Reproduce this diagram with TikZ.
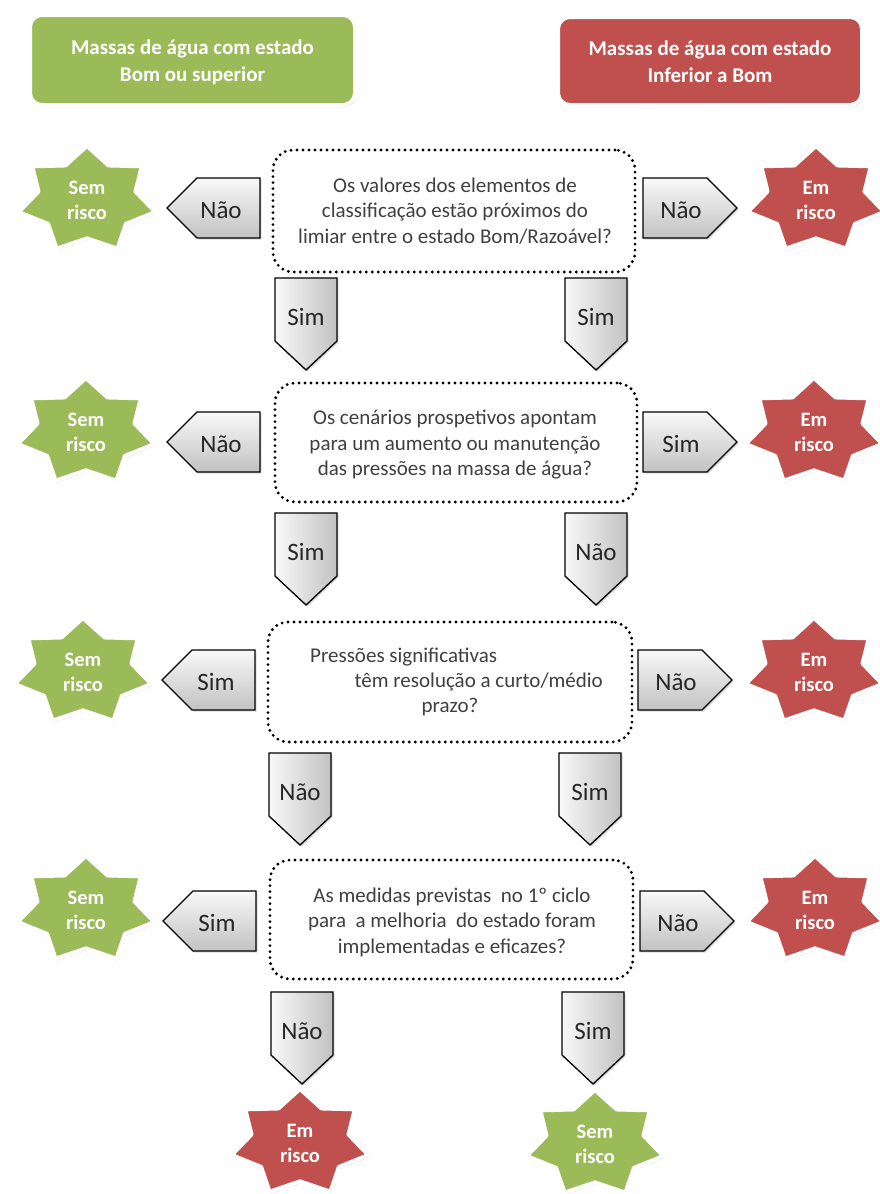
\documentclass[tikz,border=0pt]{standalone}
\usepackage{fontspec}
\setmainfont{Carlito}
\usetikzlibrary{shadows}
\definecolor{okgreen}{HTML}{9BBB59}
\definecolor{badred}{HTML}{C0504D}
\definecolor{qtext}{HTML}{404040}
\tikzset{
 hdr/.style={rounded corners=12pt, draw=white, line width=4pt, minimum height=88pt,
   drop shadow={opacity=0.35, shadow xshift=1.5pt, shadow yshift=-2pt}},
 hdrtxt/.style={text=white, font=\fontsize{21}{27}\selectfont\bfseries, align=center},
 qbox/.style={draw=black, rounded corners=20pt, line width=3.2pt, dash pattern=on 0pt off 6pt, line cap=round},
 qtxt/.style={text=qtext, font=\fontsize{21}{25.5}\selectfont, align=center, inner sep=0pt},
 arr/.style={draw=black, line width=1.3pt, line join=miter,
   drop shadow={opacity=0.3, shadow xshift=1.5pt, shadow yshift=-1.5pt}},
 varr/.style={arr, left color=gray!5, right color=gray!48},
 harr/.style={arr, top color=gray!5, bottom color=gray!48},
 arrtxt/.style={text=black!85, font=\fontsize{25}{25}\selectfont, inner sep=0pt},
 startxt/.style={text=white, font=\fontsize{20.5}{25}\selectfont\bfseries, align=center, inner sep=0pt},
 starshape/.style={draw=white, line width=4pt, line join=round,
   drop shadow={opacity=0.3, shadow xshift=1pt, shadow yshift=-2pt}},
}
% star: name, cx, cy, colour, text
\newcommand\riskstar[5]{%
  \path[starshape, fill=#4] ({#2},{#3-54})
    \foreach \k in {1,...,13}{ -- ({#2+ifthenelse(mod(\k,2)==0,1,0.71)*70*cos(90+\k*360/14)},
                                   {#3-ifthenelse(mod(\k,2)==0,1,0.71)*54*sin(90+\k*360/14)}) } -- cycle;
  \node[startxt] (#1) at ({#2},{#3}) {#5};}
% down arrow: name, x left, y top, text
\newcommand\downarr[4]{%
  \path[varr] ({#2},{#3}) -- ++(62,0) -- ++(0,63) -- ++(-31,29) -- ++(-31,-29) -- cycle;
  \node[arrtxt] (#1) at ({#2+31},{#3+39}) {#4};}
% left arrow: name, tip x, y top, text
\newcommand\leftarr[4]{%
  \path[harr] ({#2},{#3+30}) -- ({#2+30},{#3}) -- ({#2+93},{#3}) -- ({#2+93},{#3+60}) -- ({#2+30},{#3+60}) -- cycle;
  \node[arrtxt] (#1) at ({#2+54},{#3+32}) {#4};}
% right arrow: name, x left, y top, text
\newcommand\rightarr[4]{%
  \path[harr] ({#2},{#3}) -- ({#2+64},{#3}) -- ({#2+94},{#3+30}) -- ({#2+64},{#3+60}) -- ({#2},{#3+60}) -- cycle;
  \node[arrtxt] (#1) at ({#2+38},{#3+32}) {#4};}
\begin{document}
\begin{tikzpicture}[x=1pt, y=-1pt]
\useasboundingbox[fill=white] (0,0) rectangle (880,1194);

% headers
\node[hdr, fill=okgreen, minimum width=325pt, minimum height=90pt] (hgood) at (192.5,60) {};
\node[hdrtxt] (hgoodt) at (192.5,62) {Massas de água com estado\\Bom ou superior};
\node[hdr, fill=badred, minimum width=304pt, minimum height=88pt] (hbad) at (710,61) {};
\node[hdrtxt] (hbadt) at (710,62) {Massas de água com estado\\Inferior a Bom};

% question boxes
\node[qbox, minimum width=362pt, minimum height=122pt] (q1) at (454,211) {};
\node[qtxt] (q1t) at (455,211) {Os valores dos elementos de\\classificação estão próximos do\\limiar entre o estado Bom/Razoável?};
\node[qbox, minimum width=362pt, minimum height=119pt] (q2) at (456,442.5) {};
\node[qtxt] (q2t) at (455,445) {Os cenários prospetivos apontam\\para um aumento ou manutenção\\das pressões na massa de água?};
\node[qbox, minimum width=364pt, minimum height=120pt] (q3) at (450,682) {};
\node[qtxt, anchor=west] (q3a) at (310,657) {Pressões significativas};
\node[qtxt, anchor=east] (q3b) at (603,682) {têm resolução a curto/médio};
\node[qtxt] (q3c) at (450,707) {prazo?};
\node[qbox, minimum width=363pt, minimum height=119pt] (q4) at (451.5,919.5) {};
\node[qtxt] (q4t) at (452,922) {As medidas previstas\ \ no 1º ciclo\\para\ \ a melhoria\ \ do estado foram\\implementadas e eficazes?};

% down arrows
\downarr{d1l}{275}{278}{Sim}
\downarr{d1r}{565}{278}{Sim}
\downarr{d2l}{275}{513}{Sim}
\downarr{d2r}{565}{513}{Não}
\downarr{d3l}{269}{753}{Não}
\downarr{d3r}{559}{753}{Sim}
\downarr{d4l}{271}{992}{Não}
\downarr{d4r}{562}{992}{Sim}

% side arrows
\leftarr{l1}{167}{178}{Não}
\rightarr{r1}{643}{178}{Não}
\leftarr{l2}{167}{412}{Não}
\rightarr{r2}{643}{412}{Sim}
\leftarr{l3}{162}{650}{Sim}
\rightarr{r3}{638}{650}{Não}
\leftarr{l4}{163}{891}{Sim}
\rightarr{r4}{640}{891}{Não}

% stars
\riskstar{s1l}{87}{200}{okgreen}{Sem\\risco}
\riskstar{s1r}{816}{200}{badred}{Em\\risco}
\riskstar{s2l}{86}{432}{okgreen}{Sem\\risco}
\riskstar{s2r}{814}{432}{badred}{Em\\risco}
\riskstar{s3l}{83}{672}{okgreen}{Sem\\risco}
\riskstar{s3r}{814}{672}{badred}{Em\\risco}
\riskstar{s4l}{86}{910}{okgreen}{Sem\\risco}
\riskstar{s4r}{815}{910}{badred}{Em\\risco}
\riskstar{s5l}{300}{1143}{badred}{Em\\risco}
\riskstar{s5r}{595}{1144}{okgreen}{Sem\\risco}
\end{tikzpicture}
\end{document}
